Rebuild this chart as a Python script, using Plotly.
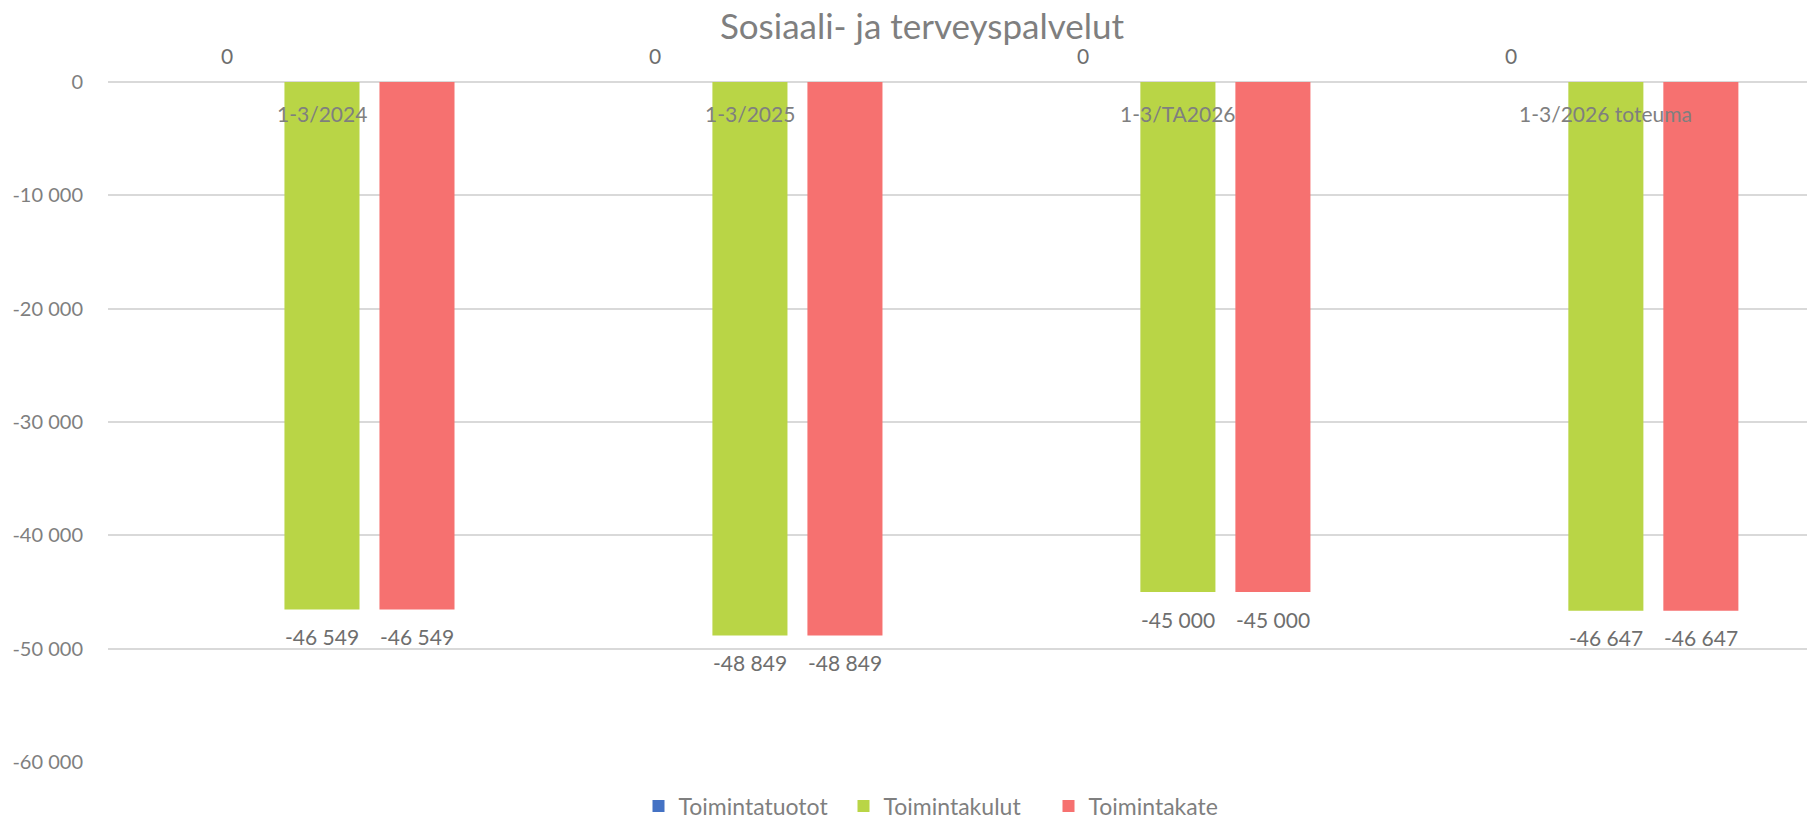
import plotly.graph_objects as go

categories = ["1-3/2024", "1-3/2025", "1-3/TA2026", "1-3/2026 toteuma"]
series_names = ["Toimintatuotot", "Toimintakulut", "Toimintakate"]
toimintatuotot = [0, 0, 0, 0]
toimintakulut = [-46549, -48849, -45000, -46647]
toimintakate = [-46549, -48849, -45000, -46647]
series_values = [toimintatuotot, toimintakulut, toimintakate]
series_colors = ["#4472C4", "#B9D546", "#F67170"]
y_tickvals = [0, -10000, -20000, -30000, -40000, -50000, -60000]
y_ticktext = ["0", "-10 000", "-20 000", "-30 000", "-40 000", "-50 000", "-60 000"]

W, H = 1807, 823
ML, MR, MT, MB = 108, 0, 82, 61
X_RANGE = [-0.5, 3.47]
BARGAP = 0.334
BARGROUPGAP = 0.21
FONT = "Lato"
GRAY = "#7F7F7F"


def fmt(v):
    s = f"{abs(v):,}".replace(",", " ")
    return ("-" if v < 0 else "") + s


fig = go.Figure()
for name, vals, col in zip(series_names, series_values, series_colors):
    fig.add_trace(go.Bar(name=name, x=categories, y=vals, marker=dict(color=col, line=dict(width=0))))

# pixel width of one bar slot inside a group, derived from the axis scale
px_per_cat = (W - ML - MR) / (X_RANGE[1] - X_RANGE[0])
slot_px = px_per_cat * (1 - BARGAP) / len(series_names)

annotations = []
for i, vals in enumerate(series_values):
    for cat, v in zip(categories, vals):
        annotations.append(dict(
            x=cat, y=v, xref="x", yref="y", text=fmt(v), showarrow=False,
            xshift=(i - 1) * slot_px, yshift=(-27 if v < 0 else 27),
            font=dict(family=FONT, size=21, color="#6E6E6E"),
        ))
for cat in categories:
    annotations.append(dict(
        x=cat, y=0, xref="x", yref="y", text=cat, showarrow=False, yshift=-31,
        font=dict(family=FONT, size=21, color=GRAY),
    ))

fig.update_layout(
    width=W, height=H,
    margin=dict(l=ML, r=MR, t=MT, b=MB, pad=0, autoexpand=False),
    paper_bgcolor="white", plot_bgcolor="white",
    barmode="group", bargap=BARGAP, bargroupgap=BARGROUPGAP,
    title=dict(text="Sosiaali- ja terveyspalvelut", x=922 / W, xref="container", xanchor="center",
               y=1 - 27 / H, yref="container", yanchor="middle", automargin=False,
               font=dict(family=FONT, size=35, color=GRAY)),
    font=dict(family=FONT, size=20, color=GRAY),
    xaxis=dict(range=X_RANGE, showticklabels=False, showgrid=False, showline=False, zeroline=False, ticks=""),
    yaxis=dict(range=[-60000, 0], tickvals=y_tickvals, ticktext=y_ticktext,
               showgrid=True, gridcolor="#D9D9D9", gridwidth=2, zeroline=True, zerolinecolor="#D9D9D9",
               zerolinewidth=2, showline=False, ticks="", ticklabelstandoff=24,
               tickfont=dict(family=FONT, size=20, color=GRAY)),
    legend=dict(orientation="h", x=946 / W, xref="container", xanchor="center",
                y=1 - 806 / H, yref="container", yanchor="middle",
                entrywidth=160, entrywidthmode="pixels",
                font=dict(family=FONT, size=23, color=GRAY), itemwidth=30, traceorder="normal"),
    annotations=annotations,
)

fig.write_html("out.html", config={"displayModeBar": False},
               post_script="document.body.style.margin='0';")
